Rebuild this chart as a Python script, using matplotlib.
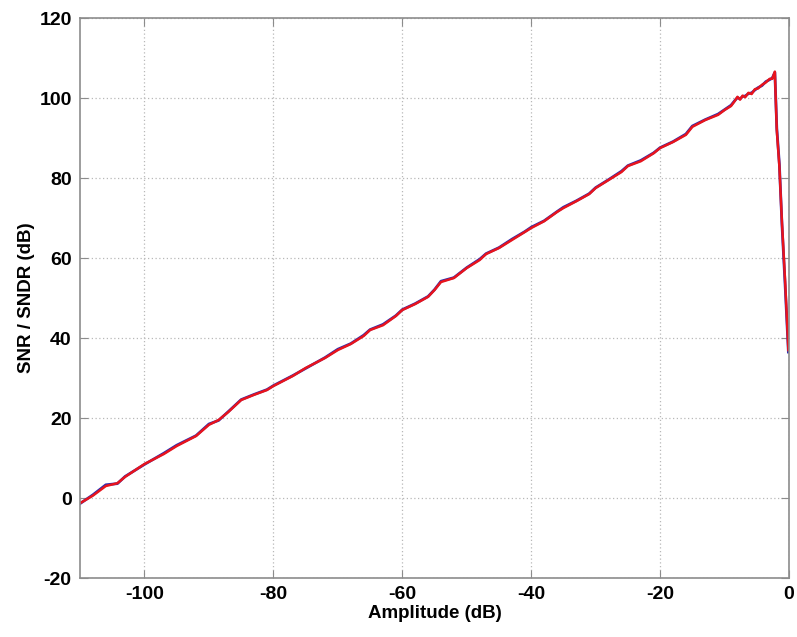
import numpy as np
import matplotlib.pyplot as plt

plt.rcParams['font.family'] = ['Liberation Sans', 'DejaVu Sans']
plt.rcParams['axes.unicode_minus'] = False

# SNR / SNDR curves
amp_db = [-110, -108, -106, -104.2, -103, -100, -97, -95, -92, -90, -88.5,
          -87, -85, -83, -81, -80, -77, -75, -72, -70, -68, -66, -65, -63, -61,
          -60, -58, -56, -55, -54, -52, -50, -48, -47, -45, -43, -41, -40, -38,
          -36, -35, -33, -31, -30, -28, -26, -25, -23, -21, -20, -18, -16, -15,
          -13, -11, -10, -9, -8.4, -8.0, -7.6, -7.2, -6.8, -6.3, -5.8, -5.3,
          -4.8, -4.2, -3.6, -3, -2.6, -2.2, -1.9, -1.5, -1.1, -0.6, -0.1]
snr_db = [-1.3, 0.6, 3, 3.7, 5.3, 8.5, 11, 13, 15.5, 18.3, 19.5, 21.5, 24.5,
          25.8, 27, 28, 30.5, 32.5, 35, 37, 38.5, 40.5, 42, 43.2, 45.5, 47, 48.5,
          50.3, 52, 54, 55, 57.5, 59.5, 61, 62.5, 64.5, 66.5, 67.5, 69.2, 71.5,
          72.5, 74.2, 76, 77.5, 79.5, 81.5, 83, 84.2, 86.2, 87.5, 89, 90.8, 92.8,
          94.5, 95.8, 97, 98, 99.3, 100.3, 99.6, 100.6, 100.2, 101.3, 101, 102.2,
          102.4, 103.3, 103.9, 104.8, 104.8, 106.6, 92, 83, 69, 54, 37]
sndr_db = [-1.4, 0.8, 3.3, 3.6, 5.4, 8.4, 11.2, 13.2, 15.6, 18.5, 19.4, 21.6,
           24.6, 25.9, 27.1, 28.1, 30.6, 32.4, 35.1, 37.2, 38.6, 40.7, 42.1, 43.4,
           45.6, 47.1, 48.6, 50.4, 52.1, 54.2, 55.1, 57.6, 59.7, 61.1, 62.6, 64.7,
           66.6, 67.7, 69.3, 71.6, 72.7, 74.3, 76.1, 77.6, 79.6, 81.7, 83.1, 84.4,
           86.3, 87.6, 89.1, 91, 93, 94.6, 96, 97.1, 98.2, 99.4, 100.1, 99.8, 100.4,
           100.5, 101.1, 101.3, 102, 102.6, 103.1, 104.1, 104.6, 105, 106.4, 92.5,
           83.5, 68.5, 53, 36.5]

x_ticks = [-100, -80, -60, -40, -20, 0]
y_ticks = [-20, 0, 20, 40, 60, 80, 100, 120]

fig = plt.figure(figsize=(7.97, 6.37), dpi=100)
ax = fig.add_axes([0.1004, 0.0926, 0.8896, 0.8791])

ax.plot(amp_db, sndr_db, color='#2b2bb0', linewidth=2.0)
ax.plot(amp_db, snr_db, color='#e8141c', linewidth=1.8)

ax.set_xlim(-110, 0)
ax.set_ylim(-20, 120)
ax.set_xticks(x_ticks)
ax.set_yticks(y_ticks)
ax.grid(True, linestyle=(0, (1, 2)), color='#b8b8b8', linewidth=0.9)

for s in ax.spines.values():
    s.set_color('#8c8c8c')
    s.set_linewidth(1.2)
ax.tick_params(direction='in', length=6, color='#8c8c8c', top=True, right=True,
               labelsize=14, pad=6)
for lbl in ax.get_xticklabels() + ax.get_yticklabels():
    lbl.set_fontweight('bold')

ax.set_xlabel('Amplitude (dB)', fontsize=13.5, fontweight='bold', labelpad=1)
ax.set_ylabel('SNR / SNDR (dB)', fontsize=13.5, fontweight='bold', labelpad=3)

fig.savefig('out.png', dpi=100)
